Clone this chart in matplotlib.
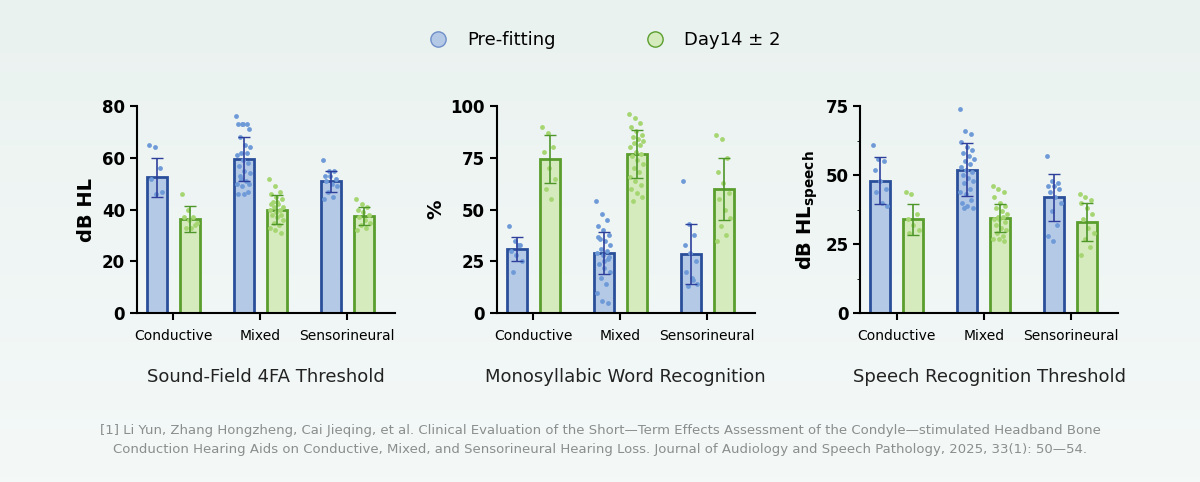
import matplotlib.pyplot as plt
import numpy as np

groups = ["Conductive", "Mixed", "Sensorineural"]
series = ["Pre-fitting", "Day14 ± 2"]
titles = ["Sound-Field 4FA Threshold", "Monosyllabic Word Recognition", "Speech Recognition Threshold"]
ylabels = ["dB HL", "%", "dB HL$_{\\mathbf{speech}}$"]
yticks = [[0, 20, 40, 60, 80], [0, 25, 50, 75, 100], [0, 25, 50, 75]]

# means [panel][series][group]
means = [
    [[52.5, 59.5, 51.0], [36.5, 40.0, 37.5]],
    [[31.0, 29.0, 28.5], [74.5, 77.0, 60.0]],
    [[48.0, 52.0, 42.0], [34.0, 34.5, 33.0]],
]
sds = [
    [[7.5, 8.5, 4.0], [5.0, 5.5, 3.5]],
    [[6.0, 10.0, 14.5], [11.5, 11.5, 15.0]],
    [[8.5, 9.5, 8.5], [5.5, 5.0, 7.0]],
]
# individual points [panel][series][group]
points = [
    [
        [[65, 64, 56, 52, 46, 47],
         [76, 73, 73, 73, 73, 71, 68, 65, 64, 62, 62, 61, 59, 58, 57, 55, 54, 52, 51, 50, 49, 47, 46, 46, 50, 53],
         [59, 55, 55, 53, 53, 52, 51, 50, 49, 47, 45, 44]],
        [[46, 40, 37, 37, 36, 34, 33, 33, 35],
         [52, 49, 47, 46, 45, 44, 43, 42, 41, 41, 40, 40, 39, 38, 38, 37, 36, 35, 34, 33, 32, 31, 42, 43],
         [44, 42, 41, 40, 39, 38, 37, 36, 35, 34, 33, 32]],
    ],
    [
        [[42, 35, 33, 30, 28, 25, 20, 33],
         [54, 48, 45, 42, 40, 38, 36, 35, 33, 31, 30, 29, 28, 26, 24, 22, 20, 17, 14, 10, 6, 5, 37, 25, 27],
         [64, 43, 38, 33, 29, 25, 20, 17, 14, 13, 16]],
        [[90, 87, 80, 78, 70, 65, 60, 55],
         [96, 94, 92, 90, 88, 86, 85, 84, 83, 82, 81, 80, 78, 77, 76, 74, 72, 70, 68, 66, 64, 62, 60, 58, 56, 54],
         [86, 84, 75, 68, 63, 58, 55, 50, 46, 42, 38, 35]],
    ],
    [
        [[61, 56, 55, 52, 48, 45, 44, 40, 39],
         [74, 66, 65, 62, 60, 59, 58, 57, 56, 55, 54, 53, 52, 51, 50, 49, 48, 47, 45, 44, 43, 41, 40, 39, 38, 38],
         [57, 48, 47, 46, 46, 45, 44, 42, 40, 37, 32, 28, 26]],
        [[44, 43, 36, 34, 32, 30, 29],
         [46, 45, 44, 42, 40, 39, 38, 37, 36, 35, 35, 34, 34, 33, 32, 31, 30, 29, 28, 27, 27, 26],
         [43, 42, 41, 40, 38, 36, 34, 31, 29, 27, 24, 21]],
    ],
]

face = ["#b4c9e6", "#d5ebbd"]
edge = ["#2a4f9a", "#5a9e2e"]
dotc = ["#6f9ad8", "#a6d672"]
errc = ["#2d3f9b", "#4f962a"]

fig = plt.figure(figsize=(12, 4.82), dpi=100)
bg = fig.add_axes([0, 0, 1, 1], zorder=-10)
grad = np.linspace(0, 1, 100).reshape(-1, 1)
bg.imshow(grad, extent=[0, 1, 0, 1], aspect="auto", cmap=plt.matplotlib.colors.LinearSegmentedColormap.from_list("g", ["#eaf2f0", "#f4f9f8"]))
bg.axis("off")

lefts = [0.114, 0.414, 0.717]
w = 0.215
for p in range(3):
    ax = fig.add_axes([lefts[p], 0.35, w, 0.43])
    ax.patch.set_alpha(0)
    x = np.arange(3)
    bw, off = 0.23, 0.19
    for s in range(2):
        xs = x + (-off if s == 0 else off)
        ax.bar(xs, means[p][s], bw, color=face[s], edgecolor=edge[s], linewidth=2, zorder=2)
        for g in range(3):
            vals = points[p][s][g]
            n = len(vals)
            jit = ((np.arange(n) * 0.37) % 1 - 0.5) * 0.17
            ax.scatter(xs[g] + jit, vals, s=12, color=dotc[s], zorder=3, linewidths=0)
        ax.errorbar(xs, means[p][s], yerr=sds[p][s], fmt="none", ecolor=errc[s], elinewidth=1.2, capsize=4, zorder=4)
    ax.set_xlim(-0.42, 2.55)
    ax.set_ylim(0, yticks[p][-1])
    ax.set_yticks(yticks[p])
    if p == 2:
        ax.set_yticks([12.5, 37.5, 62.5], minor=True)
    ax.set_xticks(x)
    ax.set_xticklabels(groups, fontsize=10)
    ax.tick_params(axis="y", labelsize=12, width=1.5, length=5)
    for lab in ax.get_yticklabels():
        lab.set_fontweight("bold")
    ax.tick_params(axis="x", width=1.5, length=5, pad=6)
    for sp in ["top", "right"]:
        ax.spines[sp].set_visible(False)
    for sp in ["left", "bottom"]:
        ax.spines[sp].set_linewidth(1.5)
    ax.set_ylabel(ylabels[p], fontsize=14, fontweight="bold")
    ax.set_title(titles[p], y=-0.37, fontsize=13, color="#222222")

handles = [plt.Line2D([], [], marker="o", ls="none", markersize=11, markerfacecolor=face[i], markeredgecolor=edge[i] if i else "#6f8fc8", markeredgewidth=1) for i in range(2)]
fig.legend(handles, series, loc="center", bbox_to_anchor=(0.5, 0.917), ncol=2, frameon=False, fontsize=13, columnspacing=4.5, handletextpad=0.6)

fig.text(0.5, 0.088, "[1] Li Yun, Zhang Hongzheng, Cai Jieqing, et al. Clinical Evaluation of the Short—Term Effects Assessment of the Condyle—stimulated Headband Bone\nConduction Hearing Aids on Conductive, Mixed, and Sensorineural Hearing Loss. Journal of Audiology and Speech Pathology, 2025, 33(1): 50—54.",
         ha="center", va="center", fontsize=9.5, color="#8a8f8e", linespacing=1.6)
fig.savefig("out.png", dpi=100)
